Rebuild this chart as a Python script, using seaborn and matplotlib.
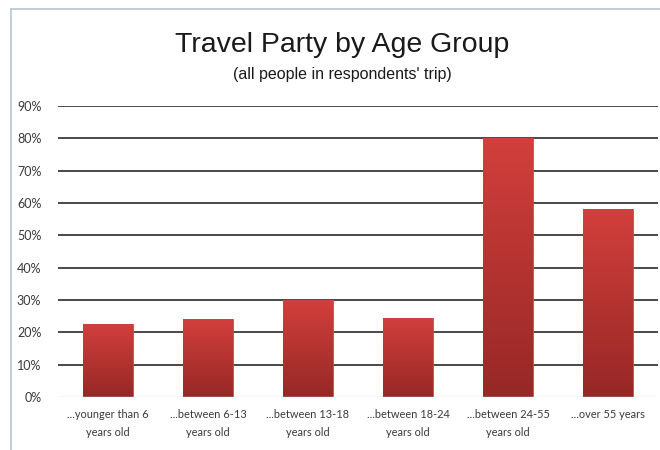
import numpy as np
import pandas as pd
import matplotlib
matplotlib.use("Agg")
import matplotlib.pyplot as plt
import seaborn as sns
from matplotlib.lines import Line2D
from matplotlib.colors import LinearSegmentedColormap

categories = ["...younger than 6\nyears old", "...between 6-13\nyears old", "...between 13-18\nyears old",
              "...between 18-24\nyears old", "...between 24-55\nyears old", "...over 55 years"]
values = [0.225, 0.241, 0.30, 0.245, 0.80, 0.58]
yticks = [0, 0.1, 0.2, 0.3, 0.4, 0.5, 0.6, 0.7, 0.8, 0.9]
ytick_labels = ["0%", "10%", "20%", "30%", "40%", "50%", "60%", "70%", "80%", "90%"]
title = "Travel Party by Age Group"
subtitle = "(all people in respondents' trip)"

sns.set_style("white")
plt.rcParams['font.family'] = ['Liberation Sans', 'DejaVu Sans']

df = pd.DataFrame({"cat": categories, "val": values})
fig = plt.figure(figsize=(6.6, 4.5), dpi=100)
ax = fig.add_axes([58/660, 1-397/450, 600/660, (397-106)/450])

sns.barplot(data=df, x="cat", y="val", color="#b83230", width=0.5, ax=ax, zorder=3, saturation=1)
ax.set_ylim(0, 0.9)
ax.set_xlim(-0.5, 5.5)
ax.set_yticks(yticks)
ax.set_yticklabels(ytick_labels, family=['Lato', 'DejaVu Sans'], fontsize=9, color="#3a3a3a")
ax.set_xticklabels(categories, family=['Lato', 'DejaVu Sans'], fontsize=7.9, color="#3a3a3a", linespacing=1.7)
ax.set_xlabel("")
ax.set_ylabel("")
ax.tick_params(axis='y', length=0, pad=12)
ax.tick_params(axis='x', length=0, pad=9)
for s in ax.spines.values():
    s.set_visible(False)
for y in yticks[1:]:
    ax.axhline(y, color="#3a3a3a", lw=1.3, zorder=1)
ax.axhline(0, color="#cfdbe8", lw=1.0, zorder=4)

# gradient fill on bars
cmap = LinearSegmentedColormap.from_list("g", ["#962826", "#d23f3c"])
grad = np.linspace(0, 1, 256).reshape(-1, 1)
for p in ax.patches:
    x0, y0 = p.get_x(), p.get_y()
    w, h = p.get_width(), p.get_height()
    im = ax.imshow(grad, cmap=cmap, extent=[x0, x0 + w, y0, y0 + h], origin='lower',
                   aspect='auto', zorder=3.5)
    im.set_clip_path(p)
    p.set_edgecolor("#c9504d")
    p.set_linewidth(0.6)
ax.set_xlim(-0.5, 5.5)
ax.set_ylim(0, 0.9)

fig.text(342/660, 1-45/450, title, ha='center', va='center', fontsize=20.5, color="#1a1a1a")
fig.text(342/660, 1-75/450, subtitle, ha='center', va='center', fontsize=11.5, color="#1a1a1a")

# outer frame lines (top and left)
fig.add_artist(Line2D([11/660, 11/660], [0, 1-9/450], color="#b8c4d4", lw=1.2, transform=fig.transFigure))
fig.add_artist(Line2D([11/660, 1], [1-9/450, 1-9/450], color="#b8c4d4", lw=1.2, transform=fig.transFigure))

fig.savefig("out.png", dpi=100)
